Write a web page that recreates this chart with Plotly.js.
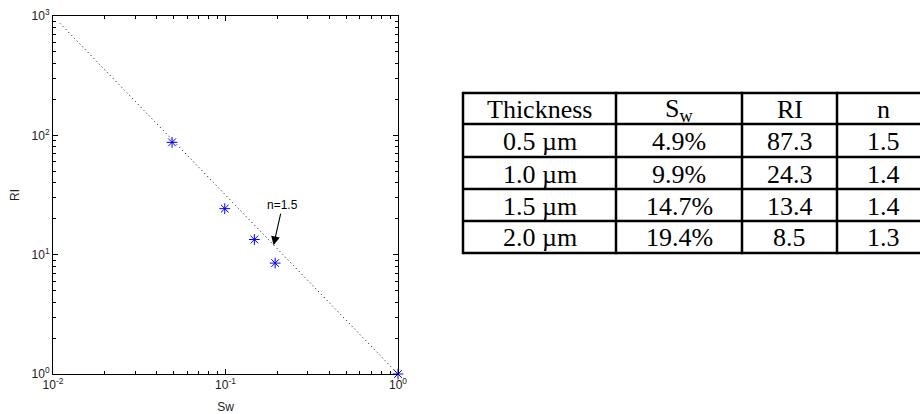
<!DOCTYPE html>
<html>
<head>
<meta charset="utf-8">
<script src="https://cdn.plot.ly/plotly-3.0.1.min.js"></script>
<style>html,body{margin:0;padding:0;background:#fff;}#chart{width:920px;height:414px;}</style>
</head>
<body>
<div id="chart"></div>
<script>
// ---- data ----
var thicknessUm = [0.5, 1.0, 1.5, 2.0];
var swPercent = [4.9, 9.9, 14.7, 19.4];
var riValues = [87.3, 24.3, 13.4, 8.5];
var nValues = [1.5, 1.4, 1.4, 1.3];
var anchorSw = [1];
var anchorRI = [1];
var fitSw = [0.011, 1];
var fitRI = [866, 1];
var tickVals = [0.01, 0.1, 1];
var tickText = ['10<sup>-2</sup>', '10<sup>-1</sup>', '10<sup>0</sup>'];
var yTickVals = [1, 10, 100, 1000];
var yTickText = ['10<sup>0</sup>', '10<sup>1</sup>', '10<sup>2</sup>', '10<sup>3</sup>'];
var headers = ['Thickness', 'S<sub>w</sub>', 'RI', 'n'];

// ---- geometry (pixels) ----
var W = 920, H = 414;
var L = 53, R = 398, T = 16, B = 374;
function px2x(px) { return (px - L) / (R - L); }
function px2y(py) { return (B - py) / (B - T); }

var colEdges = [463, 616, 742, 837, 929];
var rowEdges = [93, 124, 157, 189, 221, 253];

var shapes = [];
colEdges.forEach(function (cx) {
  shapes.push({type: 'line', xref: 'paper', yref: 'paper',
    x0: px2x(cx), x1: px2x(cx), y0: px2y(rowEdges[0] - 1.2), y1: px2y(rowEdges[rowEdges.length - 1] + 1.2),
    line: {color: '#000', width: 2.5}});
});
rowEdges.forEach(function (ry) {
  shapes.push({type: 'line', xref: 'paper', yref: 'paper',
    x0: px2x(colEdges[0]), x1: px2x(colEdges[colEdges.length - 1]), y0: px2y(ry), y1: px2y(ry),
    line: {color: '#000', width: 2.5}});
});

var annotations = [];
var tableFont = {family: 'Liberation Serif', size: 26, color: '#000'};
function cell(text, col, row) {
  annotations.push({xref: 'paper', yref: 'paper',
    x: px2x((colEdges[col] + colEdges[col + 1]) / 2),
    y: px2y((rowEdges[row] + rowEdges[row + 1]) / 2 + 1),
    text: text, showarrow: false, xanchor: 'center', yanchor: 'middle', font: tableFont});
}
headers.forEach(function (h, i) { cell(h, i, 0); });
for (var i = 0; i < thicknessUm.length; i++) {
  cell(thicknessUm[i].toFixed(1) + ' µm', 0, i + 1);
  cell(swPercent[i].toFixed(1) + '%', 1, i + 1);
  cell(riValues[i].toFixed(1), 2, i + 1);
  cell(nValues[i].toFixed(1), 3, i + 1);
}

annotations.push({x: Math.log10(0.19), y: Math.log10(12), xref: 'x', yref: 'y',
  text: 'n=1.5', showarrow: true, ax: 9, ay: -40,
  arrowhead: 2, arrowsize: 1.6, arrowwidth: 1.1, arrowcolor: '#000',
  font: {family: 'Liberation Sans', size: 12, color: '#000'}});

var swFrac = swPercent.map(function (v) { return v / 100; });

var traces = [
  {x: fitSw, y: fitRI, type: 'scatter', mode: 'lines',
   line: {color: '#000', width: 1, dash: '1px,3px'}, hoverinfo: 'skip', cliponaxis: true},
  {x: swFrac.concat(anchorSw), y: riValues.concat(anchorRI), type: 'scatter', mode: 'markers',
   marker: {symbol: 'asterisk-open', size: 9, color: '#0000ff', line: {color: '#0000ff', width: 1}},
   cliponaxis: false}
];

var axisFont = {family: 'Liberation Sans', size: 12, color: '#222'};
var layout = {
  width: W, height: H,
  margin: {l: L, r: W - R, t: T, b: H - B, pad: 0},
  paper_bgcolor: '#fff', plot_bgcolor: '#fff',
  showlegend: false,
  xaxis: {type: 'log', range: [-2, 0], tickmode: 'array', tickvals: tickVals, ticktext: tickText,
    ticks: 'inside', ticklen: 5, tickcolor: '#000', showline: true, linecolor: '#000', linewidth: 1,
    mirror: 'ticks', showgrid: false, zeroline: false, tickfont: axisFont,
    minor: {dtick: 'D1', ticks: 'inside', ticklen: 3, tickcolor: '#000', showgrid: false},
    title: {text: 'Sw', font: axisFont, standoff: 12}},
  yaxis: {type: 'log', range: [0, 3], tickmode: 'array', tickvals: yTickVals, ticktext: yTickText,
    ticks: 'inside', ticklen: 5, tickcolor: '#000', showline: true, linecolor: '#000', linewidth: 1,
    mirror: 'ticks', showgrid: false, zeroline: false, tickfont: axisFont,
    minor: {dtick: 'D1', ticks: 'inside', ticklen: 3, tickcolor: '#000', showgrid: false},
    title: {text: 'RI', font: axisFont, standoff: 9}},
  shapes: shapes,
  annotations: annotations
};

Plotly.newPlot('chart', traces, layout, {displayModeBar: false, staticPlot: true});
</script>
</body>
</html>
